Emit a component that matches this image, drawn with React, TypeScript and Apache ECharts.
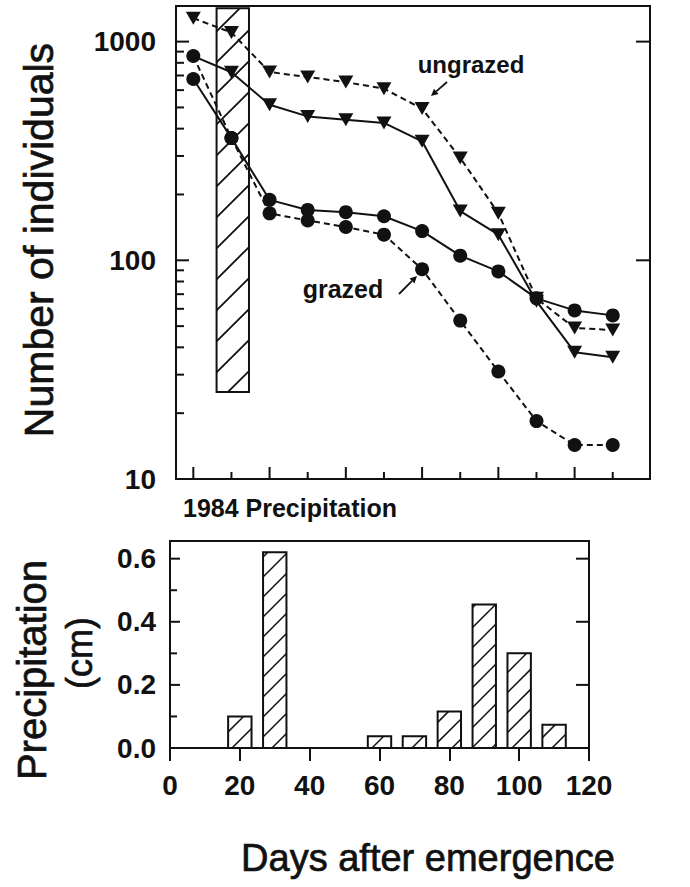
import React, { useEffect, useRef } from "react";
import * as echarts from "echarts";

// ---------- data ----------
const censusIndex = [1, 2, 3, 4, 5, 6, 7, 8, 9, 10, 11, 12];
const ungrazedDashed = [1280, 1100, 726, 689, 653, 609, 494, 294, 164, 67, 49, 48];
const ungrazedSolid = [859, 724, 514, 455, 439, 425, 350, 168, 131, 65, 38, 36];
const grazedSolid = [675, 362, 189, 170, 166, 159, 136, 105, 89, 67, 59, 56];
const grazedDashed = [859, 362, 164, 152, 142, 131, 91, 53, 31, 18.4, 14.3, 14.3];

// hatched rain-event box in the upper panel (census-index span, count span)
const rainBoxX = [1.61, 2.46];
const rainBoxY = [25, 1420];

const precipDays = [20, 30, 60, 70, 80, 90, 100, 110];
const precipCm = [0.1, 0.62, 0.037, 0.037, 0.116, 0.455, 0.3, 0.074];

const countLabels = [10, 100, 1000];
const countMinorTicks = [20, 30, 40, 50, 60, 70, 80, 90, 200, 300, 400, 500, 600, 700, 800, 900];
const precipMajorTicks = [0.2, 0.4, 0.6];
const precipMinorTicks = [0.1, 0.3, 0.5];
const dayTicks = [0, 20, 40, 60, 80, 100, 120];

// ---------- style ----------
const INK = "#111";
const FONT = '"Liberation Sans", Arial, Helvetica, sans-serif';

function seg(x1: number, y1: number, x2: number, y2: number, lw = 2) {
  return { type: "line", shape: { x1, y1, x2, y2 }, style: { stroke: INK, lineWidth: lw } };
}

function hatch(x0: number, y0: number, x1: number, y1: number, step: number, lw: number) {
  const out: any[] = [];
  const cStart = Math.ceil((x0 + y0) / step) * step;
  for (let c = cStart; c <= x1 + y1; c += step) {
    const xa = Math.max(x0, c - y1);
    const xb = Math.min(x1, c - y0);
    if (xb - xa > 0.5) out.push(seg(xa, c - xa, xb, c - xb, lw));
  }
  return out;
}

function arrow(x1: number, y1: number, x2: number, y2: number) {
  const dx = x2 - x1, dy = y2 - y1;
  const L = Math.hypot(dx, dy);
  const ux = dx / L, uy = dy / L;
  const px = -uy, py = ux;
  const hl = 7, hw = 3.5;
  const bx = x2 - ux * hl, by = y2 - uy * hl;
  return [
    { type: "line", shape: { x1, y1, x2: bx, y2: by }, style: { stroke: INK, lineWidth: 1.8 } },
    {
      type: "polygon",
      shape: { points: [[x2, y2], [bx + px * hw, by + py * hw], [bx - px * hw, by - py * hw]] },
      style: { fill: INK },
    },
  ];
}

function lineSeries(name: string, values: number[], dashed: boolean, tri: boolean, hideFirst = false) {
  return {
    name,
    type: "line",
    xAxisIndex: 0,
    yAxisIndex: 0,
    z: tri ? 3 : 4,
    data: values.map((v, i) =>
      hideFirst && i === 0 ? { value: [censusIndex[i], v], symbol: "none" } : [censusIndex[i], v]
    ),
    symbol: tri ? "triangle" : "circle",
    symbolSize: tri ? [15, 13] : 14,
    symbolRotate: tri ? 180 : 0,
    itemStyle: { color: INK },
    lineStyle: { color: INK, width: 2, type: dashed ? [6, 4] : "solid" },
    emphasis: { disabled: true },
  };
}

function title(text: string, x: number, y: number, size: number, vertical: boolean) {
  return {
    type: "text", x, y, rotation: vertical ? Math.PI / 2 : 0,
    style: {
      text, fill: INK, stroke: INK, lineWidth: 0.7, fontFamily: FONT, fontSize: size,
      textAlign: "center", textVerticalAlign: "middle",
    },
  };
}

export default function App() {
  const ref = useRef<HTMLDivElement>(null);

  useEffect(() => {
    if (!ref.current) return;
    const chart = echarts.init(ref.current, undefined, { renderer: "svg" });

    const option: any = {
      animation: false,
      backgroundColor: "#fff",
      grid: [
        { left: 176, top: 6, width: 474, height: 473, show: true, borderColor: INK, borderWidth: 2, backgroundColor: "transparent" },
        { left: 170, top: 541, width: 419, height: 207, show: true, borderColor: INK, borderWidth: 2, backgroundColor: "transparent" },
      ],
      xAxis: [
        {
          type: "value", gridIndex: 0, min: 0.546, max: 12.977,
          axisLine: { show: false }, axisTick: { show: false }, axisLabel: { show: false }, splitLine: { show: false },
        },
        {
          type: "value", gridIndex: 1, min: 0, max: 120, interval: 20,
          axisLine: { show: true, lineStyle: { color: INK, width: 2 } },
          axisTick: { show: true, inside: false, length: 13, lineStyle: { color: INK, width: 2 } },
          axisLabel: {
            show: true, margin: 23, color: INK, fontFamily: FONT, fontSize: 28, fontWeight: "bold",
            formatter: (v: number) => (dayTicks.includes(v) ? String(v) : ""),
          },
          splitLine: { show: false },
        },
      ],
      yAxis: [
        {
          type: "log", gridIndex: 0, min: 10, max: 1455, logBase: 10,
          axisLine: { show: false }, axisTick: { show: false }, splitLine: { show: false },
          axisLabel: {
            show: true, margin: 20, color: INK, fontFamily: FONT, fontSize: 28, fontWeight: "bold",
            formatter: (v: number) => {
              const r = countLabels.find((c) => Math.abs(c - v) / c < 1e-6);
              return r ? String(r) : "";
            },
          },
        },
        {
          type: "value", gridIndex: 1, min: 0, max: 0.656, interval: 0.2,
          axisLine: { show: false }, axisTick: { show: false }, splitLine: { show: false },
          axisLabel: {
            show: true, margin: 14, color: INK, fontFamily: FONT, fontSize: 28, fontWeight: "bold",
            formatter: (v: number) => (Math.abs(v * 5 - Math.round(v * 5)) < 1e-6 ? v.toFixed(1) : ""),
          },
        },
      ],
      series: [
        // hatched rain box (upper panel)
        {
          type: "custom",
          xAxisIndex: 0,
          yAxisIndex: 0,
          z: 2,
          data: [[rainBoxX[0], rainBoxY[0], rainBoxX[1], rainBoxY[1]]],
          encode: { x: [0, 2], y: [1, 3] },
          renderItem: (params: any, api: any) => {
            const a = api.coord([api.value(0), api.value(1)]);
            const b = api.coord([api.value(2), api.value(3)]);
            const x0 = Math.min(a[0], b[0]), x1 = Math.max(a[0], b[0]);
            const y0 = Math.min(a[1], b[1]), y1 = Math.max(a[1], b[1]);
            return {
              type: "group",
              children: [
                { type: "rect", shape: { x: x0, y: y0, width: x1 - x0, height: y1 - y0 }, style: { fill: "#fff", stroke: INK, lineWidth: 2 } },
                ...hatch(x0, y0, x1, y1, 31, 1.8),
              ],
            };
          },
        },
        lineSeries("ungrazed (dashed)", ungrazedDashed, true, true),
        lineSeries("ungrazed (solid)", ungrazedSolid, false, true, true),
        lineSeries("grazed (solid)", grazedSolid, false, false),
        lineSeries("grazed (dashed)", grazedDashed, true, false),
        // ticks of upper panel
        {
          type: "custom",
          xAxisIndex: 0,
          yAxisIndex: 0,
          z: 5,
          silent: true,
          data: [[censusIndex[0], countLabels[1]]],
          renderItem: (params: any, api: any) => {
            const cs = params.coordSys;
            const left = cs.x, right = cs.x + cs.width, bottom = cs.y + cs.height;
            const ch: any[] = [];
            countLabels.slice(1).forEach((v) => {
              const y = api.coord([censusIndex[0], v])[1];
              ch.push(seg(left, y, left + 13, y));
              ch.push(seg(right - 14, y, right, y));
            });
            countMinorTicks.forEach((v) => {
              const y = api.coord([censusIndex[0], v])[1];
              ch.push(seg(left, y, left + 8, y));
            });
            censusIndex.forEach((c, i) => {
              const x = api.coord([c, countLabels[1]])[0];
              ch.push(seg(x, bottom, x, bottom - (i % 2 === 0 ? 12 : 7)));
            });
            return { type: "group", children: ch };
          },
        },
        // hatched precipitation bars
        {
          type: "custom",
          xAxisIndex: 1,
          yAxisIndex: 1,
          z: 3,
          data: precipDays.map((d, i) => [d, precipCm[i]]),
          encode: { x: 0, y: 1 },
          renderItem: (params: any, api: any) => {
            const p0 = api.coord([api.value(0), 0]);
            const p1 = api.coord([api.value(0), api.value(1)]);
            const w = api.size([6.7, 0])[0];
            const x0 = p0[0] - w / 2, x1 = p0[0] + w / 2;
            const y0 = p1[1], y1 = p0[1];
            return {
              type: "group",
              children: [
                { type: "rect", shape: { x: x0, y: y0, width: w, height: y1 - y0 }, style: { fill: "#fff", stroke: INK, lineWidth: 2 } },
                ...hatch(x0, y0, x1, y1, 20, 1.5),
              ],
            };
          },
        },
        // ticks of lower panel
        {
          type: "custom",
          xAxisIndex: 1,
          yAxisIndex: 1,
          z: 5,
          silent: true,
          data: [[dayTicks[0], precipMajorTicks[0]]],
          renderItem: (params: any, api: any) => {
            const cs = params.coordSys;
            const left = cs.x, right = cs.x + cs.width;
            const ch: any[] = [];
            precipMajorTicks.forEach((v) => {
              const y = api.coord([dayTicks[0], v])[1];
              ch.push(seg(left, y, left + 10, y));
              ch.push(seg(right - 13, y, right, y));
            });
            precipMinorTicks.forEach((v) => {
              const y = api.coord([dayTicks[0], v])[1];
              ch.push(seg(left, y, left + 7, y));
            });
            return { type: "group", children: ch };
          },
        },
      ],
      graphic: [
        title("Number of individuals", 39, 240, 41, true),
        title("Precipitation", 32, 670, 40, true),
        title("(cm)", 79, 653, 36, true),
        title("Days after emergence", 428, 858, 38, false),
        {
          type: "text", x: 183, y: 508,
          style: { text: "1984 Precipitation", fill: INK, fontFamily: FONT, fontSize: 25, fontWeight: "bold", textAlign: "left", textVerticalAlign: "middle" },
        },
        {
          type: "text", x: 471, y: 64,
          style: { text: "ungrazed", fill: INK, fontFamily: FONT, fontSize: 24, fontWeight: "bold", textAlign: "center", textVerticalAlign: "middle" },
        },
        {
          type: "text", x: 343, y: 289,
          style: { text: "grazed", fill: INK, fontFamily: FONT, fontSize: 25, fontWeight: "bold", textAlign: "center", textVerticalAlign: "middle" },
        },
        ...arrow(447, 82, 431, 96),
        ...arrow(399, 294, 417, 276),
      ],
    };

    chart.setOption(option);
    return () => chart.dispose();
  }, []);

  return <div ref={ref} style={{ position: "absolute", left: 0, top: 0, width: 690, height: 887, background: "#fff" }} />;
}
